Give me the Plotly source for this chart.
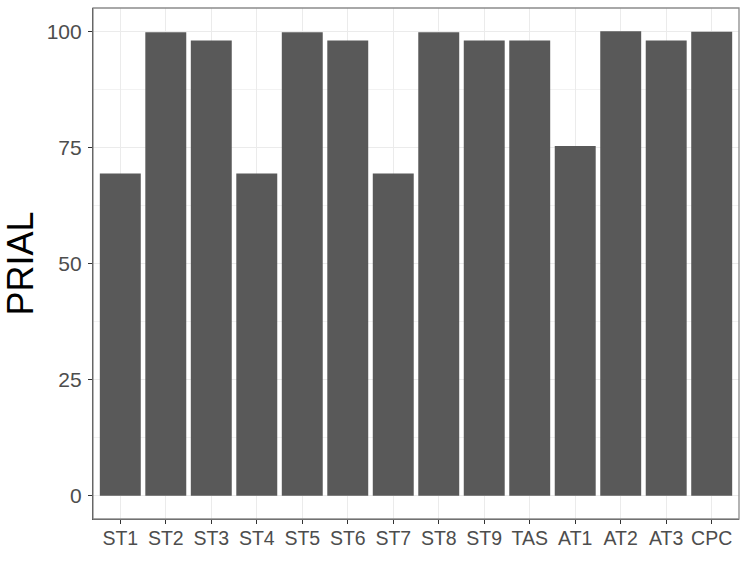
import plotly.graph_objects as go

categories = ["ST1", "ST2", "ST3", "ST4", "ST5", "ST6", "ST7", "ST8", "ST9", "TAS", "AT1", "AT2", "AT3", "CPC"]
prial = [69.4, 99.8, 98.0, 69.4, 99.8, 98.0, 69.4, 99.8, 98.0, 98.0, 75.3, 100.0, 98.0, 99.9]
y_ticks = [0, 25, 50, 75, 100]

fig = go.Figure(go.Bar(
    x=categories, y=prial,
    marker=dict(color="#595959", line=dict(width=0)),
    width=0.9,
))

font = "Liberation Sans, Arial, sans-serif"
fig.update_layout(
    width=747, height=580,
    margin=dict(l=93, r=8, t=8, b=61, autoexpand=False),
    paper_bgcolor="white", plot_bgcolor="white",
    showlegend=False,
    font=dict(family=font),
    shapes=[dict(type="rect", xref="paper", yref="paper", x0=0, y0=0, x1=1, y1=1,
                 line=dict(color="#8c8c8c", width=1.3), layer="above")],
)
fig.update_xaxes(
    type="category", range=[-0.6, 13.6], automargin=False,
    showgrid=True, gridcolor="#EBEBEB", gridwidth=1.1,
    ticks="outside", ticklen=4, tickcolor="#333333", tickwidth=1.1,
    tickfont=dict(size=19.5, color="#4D4D4D", family=font),
    ticklabelstandoff=-3,
    showline=True, linecolor="#222222", linewidth=1.2,
    zeroline=False,
)
fig.update_yaxes(
    range=[-5, 105], tickvals=y_ticks, ticktext=[str(v) for v in y_ticks], automargin=False,
    showgrid=True, gridcolor="#EBEBEB", gridwidth=1.1,
    minor=dict(tickvals=[12.5, 37.5, 62.5, 87.5], showgrid=True, gridcolor="#F2F2F2", gridwidth=0.6, ticks=""),
    ticks="outside", ticklen=4, tickcolor="#333333", tickwidth=1.1,
    tickfont=dict(size=21, color="#4D4D4D", family=font),
    ticklabelstandoff=2,
    showline=True, linecolor="#222222", linewidth=1.2,
    zeroline=False,
    title=dict(text="PRIAL", font=dict(size=36, color="black", family=font), standoff=10),
)

fig.write_html("out.html", config={"displayModeBar": False},
               post_script="document.body.style.margin='0';document.body.style.overflow='hidden';")
